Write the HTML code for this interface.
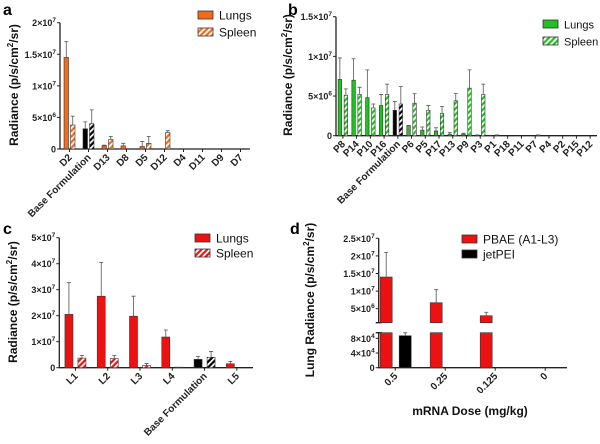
<!DOCTYPE html>
<html><head><meta charset="utf-8"><style>
html,body{margin:0;padding:0;background:#fff;}
svg text{font-family:"Liberation Sans",Arial,sans-serif;}
.tk{font-size:9px;font-weight:bold;fill:#222;}
.yt{font-size:12px;font-weight:bold;fill:#111;}
.lg{font-size:12px;fill:#111;}
.pl{font-size:16px;font-weight:bold;fill:#000;}
</style></head><body>
<svg id="fig" width="600" height="439" viewBox="0 0 600 439" xmlns="http://www.w3.org/2000/svg">
<defs>
<pattern id="hO" width="4" height="4" patternUnits="userSpaceOnUse" patternTransform="rotate(45)"><rect width="4" height="4" fill="#f26a1b"/><rect width="1.8" height="4" fill="#fff"/></pattern>
<pattern id="hG" width="4" height="4" patternUnits="userSpaceOnUse" patternTransform="rotate(45)"><rect width="4" height="4" fill="#22c022"/><rect width="1.8" height="4" fill="#fff"/></pattern>
<pattern id="hR" width="4" height="4" patternUnits="userSpaceOnUse" patternTransform="rotate(45)"><rect width="4" height="4" fill="#ee1111"/><rect width="1.8" height="4" fill="#fff"/></pattern>
<pattern id="hK" width="4" height="4" patternUnits="userSpaceOnUse" patternTransform="rotate(45)"><rect width="4" height="4" fill="#000"/><rect width="1.8" height="4" fill="#fff"/></pattern>
</defs>
</svg>
<script>
// ---- data ----
const catsA = ["D2","Base Formulation","D13","D8","D5","D12","D4","D11","D9","D7"];
const lungsA = [14.5,3.2,0.5,0.5,0.4,0,0.05,0,0,0];
const lungsErrA = [17.0,4.3,0.6,0.9,1.2,0,0,0,0,0];
const spleenA = [3.8,4.0,1.5,0,0.9,2.6,0,0,0,0];
const spleenErrA = [5.2,6.2,2.0,0,2.0,2.9,0,0,0,0];
const ticksA = [0,5,10,15,20];

const catsB = ["P8","P14","P10","P16","Base Formulation","P6","P5","P17","P13","P9","P3","P1","P18","P11","P7","P4","P2","P15","P12"];
const lungsB = [7.1,7.0,4.8,3.8,3.2,1.3,0.7,0.6,0.2,0.2,0.1,0.05,0,0,0,0,0,0,0];
const lungsErrB = [9.8,9.7,8.3,5.2,4.3,1.3,1.1,1.0,0.4,0.3,0.1,0.05,0,0,0,0,0,0,0];
const spleenB = [5.1,5.2,3.5,5.2,4.0,4.1,3.2,2.8,4.4,6.0,5.2,0.1,0,0,0.1,0,0,0,0];
const spleenErrB = [5.9,6.1,4.0,6.5,6.2,5.3,3.8,3.7,5.3,8.3,6.5,0.1,0,0,0.1,0,0,0,0];
const ticksB = [0,5,10,15];

const catsC = ["L1","L2","L3","L4","Base Formulation","L5"];
const lungsC = [20.5,27.5,19.8,11.8,3.2,1.5];
const lungsErrC = [32.7,40.5,27.5,14.5,4.3,2.4];
const spleenC = [3.7,3.5,0.8,0.2,4.0,0];
const spleenErrC = [4.7,4.7,1.6,0.2,6.2,0];
const ticksC = [0,10,20,30,40,50];

const catsD = ["0.5","0.25","0.125","0"];
const pbaeD = [1.4e7,6.7e6,3.0e6,0];
const pbaeErrD = [2.1e7,1.04e7,4.0e6,0];
const jetD = [8.7e4,0,0,0];
const jetErrD = [9.5e4,0,0,0];
const ticksDLow = [0,4e4,8e4];
const ticksDHigh = [5e6,1e7,1.5e7,2e7,2.5e7];
const tickLblDLow = ["0","4×10|4","8×10|4"];
const tickLblDHigh = ["5×10|6","1×10|7","1.5×10|7","2×10|7","2.5×10|7"];

// ---- helpers ----
const svg = document.getElementById('fig');
const NS = "http://www.w3.org/2000/svg";
function mk(tag, attrs, parent){const e=document.createElementNS(NS,tag);for(const k in attrs)e.setAttribute(k,attrs[k]);(parent||svg).appendChild(e);return e;}
function sciLabel(g,x,y,str){
  const t=mk('text',{x:x,y:y,'text-anchor':'end',class:'tk'},g);
  
  
  if(str.indexOf('|')<0){t.textContent=str;return;}
  const p=str.split('|');
  const a=mk('tspan',{},t);a.textContent=p[0];
  const b=mk('tspan',{dy:-4,'font-size':'6.5'},t);b.textContent=p[1];
}
function lbl(v){ if(v===0) return "0"; const m=v/10; if(v<10) return v+"×10|6"; return (m)+"×10|7"; }
function yTitle(g,x,y,pre){
  const t=mk('text',{transform:`translate(${x},${y}) rotate(-90)`,'text-anchor':'middle',class:'yt'},g);
  
  
  const a=mk('tspan',{},t);a.textContent=pre+"(p/s/cm";
  const b=mk('tspan',{dy:-5,'font-size':'8'},t);b.textContent="2";
  const c=mk('tspan',{dy:5},t);c.textContent="/sr)";
}
function legend(g,x,y,fill,text,fs){
  const r=mk('rect',{x:x,y:y,width:15,height:8,fill:fill,stroke:'#333','stroke-width':0.8},g);
  
  
  const t=mk('text',{x:x+21,y:y+8.5,class:'lg'},g);
  if(fs) t.style.fontSize=fs+'px';
  t.textContent=text;
  
  
}
function bar(g,x,w,y0,y1,fill,name){
  const r=mk('rect',{x:x,y:Math.min(y0,y1),width:w,height:Math.abs(y0-y1),fill:fill,stroke:'#333','stroke-width':0.6},g);
  
  
}
function err(g,xc,yv,ye){
  if(ye>=yv-0.5) return;
  const l=mk('path',{d:`M${xc},${yv}V${ye}M${xc-2},${ye}H${xc+2}`,stroke:'#555','stroke-width':0.8,fill:'none'},g);
  
  
}
function xLabels(g,cats,xfn,y){
  cats.forEach((c,i)=>{
    const x=xfn(i);
    const t=mk('text',{transform:`translate(${x+3},${y}) rotate(-45)`,'text-anchor':'end',class:'tk'},g);
    t.style.fontSize='10px';
    t.textContent=c;
    
    
  });
}

function panel(opt){
  const g=mk('g',{});
  
  
  const {x0,x1,yZero,yTop,vmax,cats,lungs,lungsErr,spleen,spleenErr,ticks,fill,hatch}=opt;
  const sy=v=>yZero-(v/vmax)*(yZero-yTop);
  const cw=(x1-x0)/cats.length;
  const cx=i=>x0+cw*(i+0.5);
  const bw=opt.bw;
  const ax=mk('path',{d:`M${x0},${yTop}V${yZero}H${x1}`,stroke:'#222','stroke-width':1.3,fill:'none'},g);
  
  
  ticks.forEach(v=>{
    mk('path',{d:`M${x0-3},${sy(v)}H${x0}`,stroke:'#222','stroke-width':1},g);
    sciLabel(g,x0-4,sy(v)+3.5,lbl(v));
  });
  cats.forEach((c,i)=>{ mk('path',{d:`M${cx(i)},${yZero}V${yZero+3}`,stroke:'#222','stroke-width':1},g); });
  cats.forEach((c,i)=>{
    const base=c==="Base Formulation";
    const lx=cx(i)-bw-opt.gap/2, sx=cx(i)+opt.gap/2;
    if(lungs[i]>0){bar(g,lx,bw,yZero,sy(lungs[i]),base?'#000':fill,'bar-lungs-'+c);err(g,lx+bw/2,sy(lungs[i]),sy(lungsErr[i]));}
    if(spleen[i]>0){bar(g,sx,bw,yZero,sy(spleen[i]),base?'url(#hK)':hatch,'bar-spleen-'+c);err(g,sx+bw/2,sy(spleen[i]),sy(spleenErr[i]));}
  });
  xLabels(g,cats,cx,yZero+9);
  return g;
}

const gA=panel({name:'panel-a',x0:60,x1:250,yZero:149,yTop:22.7,vmax:20,cats:catsA,lungs:lungsA,lungsErr:lungsErrA,spleen:spleenA,spleenErr:spleenErrA,ticks:ticksA,fill:'#f26a1b',hatch:'url(#hO)',bw:4.5,gap:2});
yTitle(gA,18,85,"Radiance  ");
legend(gA,198,11,'#f26a1b','Lungs');legend(gA,198,28,'url(#hO)','Spleen');

const gB=panel({name:'panel-b',x0:336,x1:597,yZero:135.7,yTop:16.7,vmax:15,cats:catsB,lungs:lungsB,lungsErr:lungsErrB,spleen:spleenB,spleenErr:spleenErrB,ticks:ticksB,fill:'#22c022',hatch:'url(#hG)',bw:3.5,gap:2.5});
yTitle(gB,292,75,"Radiance  ");
legend(gB,543,20,'#22c022','Lungs',11);legend(gB,543,37,'url(#hG)','Spleen',11);

const gC=panel({name:'panel-c',x0:59.3,x1:253,yZero:367.7,yTop:237.7,vmax:50,cats:catsC,lungs:lungsC,lungsErr:lungsErrC,spleen:spleenC,spleenErr:spleenErrC,ticks:ticksC,fill:'#ee1111',hatch:'url(#hR)',bw:8,gap:5});
yTitle(gC,17,302,"Radiance  ");
legend(gC,195,234,'#ee1111','Lungs');legend(gC,195,249,'url(#hR)','Spleen');

// panel d (broken axis)
(function(){
  const g=mk('g',{});
  
  
  const x0=378.7,x1=567,yZero=367.7,lowTop=332.7,highBot=322.7,yTop=238.3;
  const syL=v=>yZero-v*(29.4/8e4);
  const syH=v=>308.7-(v-5e6)*(70.4/2e7);
  const cx=i=>x0+16.5+50*i;
  const ax=mk('path',{d:`M${x0},${lowTop}V${yZero}H${x1}M${x0},${yTop}V${highBot}`,stroke:'#222','stroke-width':1.3,fill:'none'},g);
  
  
  mk('path',{d:`M${x0-3},${lowTop}H${x0+3}M${x0-3},${highBot}H${x0+3}`,stroke:'#222','stroke-width':1.3},g);
  ticksDLow.forEach((v,i)=>{mk('path',{d:`M${x0-3},${syL(v)}H${x0}`,stroke:'#222'},g);sciLabel(g,x0-4,syL(v)+3.5,tickLblDLow[i]);});
  ticksDHigh.forEach((v,i)=>{mk('path',{d:`M${x0-3},${syH(v)}H${x0}`,stroke:'#222'},g);sciLabel(g,x0-4,syH(v)+3.5,tickLblDHigh[i]);});
  catsD.forEach((c,i)=>{
    mk('path',{d:`M${cx(i)},${yZero}V${yZero+3}`,stroke:'#222'},g);
    const rx=cx(i)-15;
    if(pbaeD[i]>0){
      bar(g,rx,12,yZero,lowTop,'#ee1111','bar-pbae-low-'+c);
      if(pbaeD[i]>1e6){bar(g,rx,12,highBot,syH(pbaeD[i]),'#ee1111','bar-pbae-high-'+c);err(g,rx+6,syH(pbaeD[i]),syH(pbaeErrD[i]));}
    }
    if(jetD[i]>0){const jx=cx(i)+4;bar(g,jx,12,yZero,syL(jetD[i]),'#000','bar-jetpei-'+c);err(g,jx+6,syL(jetD[i]),syL(jetErrD[i]));}
  });
  xLabels(g,catsD,cx,yZero+9);
  yTitle(g,314,300,"Lung Radiance  ");
  legend(g,462,235,'#ee1111','PBAE (A1-L3)');legend(g,462,250,'#000','jetPEI');
  const xt=mk('text',{x:470,y:415,'text-anchor':'middle',class:'yt'},g);
  xt.textContent='mRNA Dose (mg/kg)';
  
  
})();

[['a',3,15],['b',288,15],['c',3,234],['d',290,234]].forEach(p=>{
  const t=mk('text',{x:p[1],y:p[2],class:'pl'});
  t.textContent=p[0];
  
  
});
</script>
</body></html>
